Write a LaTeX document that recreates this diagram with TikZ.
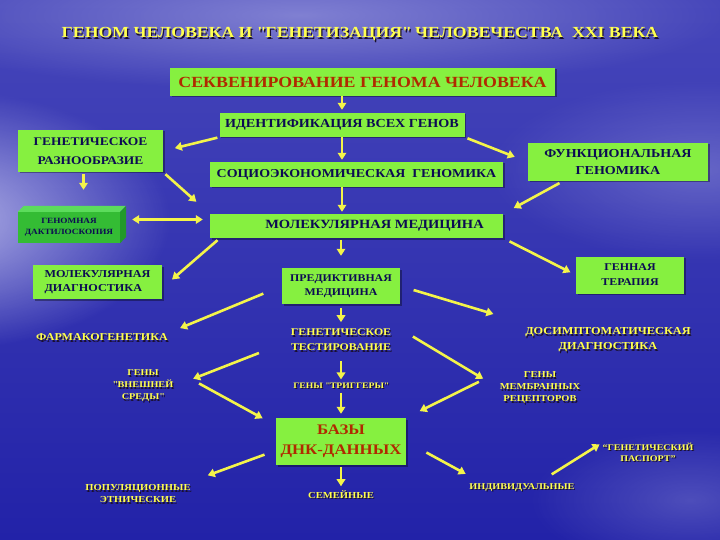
\documentclass[tikz,border=0pt]{standalone}
\usepackage{fontspec}
\setmainfont{Liberation Serif}[FakeStretch=1.15]
\usetikzlibrary{arrows.meta,fadings,shadows}
\tikzfading[name=softglow, inner color=transparent!0, outer color=transparent!100]
\definecolor{boxg}{HTML}{86F040}
\definecolor{navyt}{HTML}{0C0C52}
\definecolor{redt}{HTML}{B02A00}
\definecolor{yel}{HTML}{FFFF50}
\definecolor{arrc}{HTML}{F4F44A}
\definecolor{shadc}{HTML}{1A1030}
\definecolor{bgtop}{HTML}{4646BA}
\definecolor{bgbot}{HTML}{2222A8}
\definecolor{cloud}{HTML}{C8C8F0}
\definecolor{dkfront}{HTML}{34BC34}
\definecolor{dktop}{HTML}{5CDC5C}
\definecolor{dkside}{HTML}{229A2A}
\newcommand\fsz[2]{\fontsize{#1}{#2}\selectfont\bfseries}
\newcommand\shad[1]{\leavevmode\rlap{\kern1.2pt\raisebox{-1.2pt}{\color{shadc}#1}}#1}
\newcommand\ytab[1]{\shad{\begin{tabular}{@{}c@{}}#1\end{tabular}}}
\newcommand\qq{\textquotedbl}
\begin{document}
\begin{tikzpicture}[x=1pt,y=-1pt,
 gbox/.style={fill=boxg, text=navyt, inner sep=0pt, align=center,
   drop shadow={shadow xshift=1.5pt,shadow yshift=-1.5pt,opacity=.35,fill=black}},
 ytxt/.style={text=yel, inner sep=1pt},
 arr/.style={draw=arrc, line width=2.6pt, -{Triangle[length=7pt,width=8.5pt]}},
 dbl/.style={draw=arrc, line width=2.6pt, {Triangle[length=7pt,width=8.5pt]}-{Triangle[length=7pt,width=8.5pt]}}
]
\useasboundingbox (0,0) rectangle (720,540);
% background
\shade[top color=bgtop, bottom color=bgbot] (0,0) rectangle (720,540);
\begin{scope}
\clip (0,0) rectangle (720,540);
\fill[cloud, path fading=softglow, opacity=.85] (-60,220) ellipse (230 and 130);
\fill[cloud, path fading=softglow, opacity=.45] (300,15) ellipse (430 and 75);
\fill[cloud, path fading=softglow, opacity=.3] (700,170) ellipse (210 and 90);
\fill[cloud, path fading=softglow, opacity=.25] (690,500) ellipse (160 and 70);
\end{scope}

% title
\node[ytxt, font=\fsz{15.4}{18}] (title) at (360,35)
 {\shad{ГЕНОМ ЧЕЛОВЕКА И \qq ГЕНЕТИЗАЦИЯ\qq{} ЧЕЛОВЕЧЕСТВА\ \ XXI ВЕКА}};

% boxes
\node[gbox, text=redt, minimum width=385pt, minimum height=28pt, font=\fsz{15.5}{18}] (seq) at (362.5,82) {СЕКВЕНИРОВАНИЕ ГЕНОМА ЧЕЛОВЕКА};
\node[gbox, minimum width=245pt, minimum height=24pt, font=\fsz{12.3}{15}] (ident) at (342,125) {ИДЕНТИФИКАЦИЯ ВСЕХ ГЕНОВ};
\node[gbox, minimum width=145pt, minimum height=42pt, font=\fsz{11.7}{19}] (genraz) at (90.5,151) {ГЕНЕТИЧЕСКОЕ\\РАЗНООБРАЗИЕ};
\node[gbox, minimum width=180pt, minimum height=38pt, font=\fsz{12.2}{17}] (funkc) at (618,162) {ФУНКЦИОНАЛЬНАЯ\\ГЕНОМИКА};
\node[gbox, minimum width=293pt, minimum height=25pt, font=\fsz{12.1}{15}] (socio) at (356.5,174.5) {СОЦИОЭКОНОМИЧЕСКАЯ\ \ ГЕНОМИКА};
\node[gbox, minimum width=293pt, minimum height=24pt, font=\fsz{12.6}{15}] (molmed) at (356.5,226) {\hspace*{36pt}МОЛЕКУЛЯРНАЯ МЕДИЦИНА};
\node[fill=dkfront, text=navyt, inner sep=0pt, align=center, minimum width=102pt, minimum height=31pt, font=\fsz{8}{11}] (dakt) at (69,227.5) {ГЕНОМНАЯ\\ДАКТИЛОСКОПИЯ};
\fill[dktop] (dakt.north west) -- ++(6,-6) -- ++(102,0) -- (dakt.north east) -- cycle;
\fill[dkside] (dakt.north east) -- ++(6,-6) -- ++(0,31) -- (dakt.south east) -- cycle;
\node[gbox, align=left, minimum width=129pt, minimum height=34pt, font=\fsz{10.6}{14}] (moldiag) at (97.5,282) {МОЛЕКУЛЯРНАЯ\\ДИАГНОСТИКА};
\node[gbox, minimum width=118pt, minimum height=36pt, font=\fsz{10.3}{14}] (predikt) at (341,286) {ПРЕДИКТИВНАЯ\\МЕДИЦИНА};
\node[gbox, minimum width=108pt, minimum height=37pt, font=\fsz{10.4}{15}] (genter) at (630,275) {ГЕННАЯ\\ТЕРАПИЯ};
\node[gbox, text=redt, minimum width=130pt, minimum height=47pt, font=\fsz{14.6}{20}] (bazy) at (341,441.5) {БАЗЫ\\ДНК-ДАННЫХ};

% yellow texts
\node[ytxt, font=\fsz{10.5}{14}] (farmako) at (102,338) {\shad{ФАРМАКОГЕНЕТИКА}};
\node[ytxt, font=\fsz{10.7}{15}] (dosimpt) at (608,340) {\ytab{ДОСИМПТОМАТИЧЕСКАЯ\\ДИАГНОСТИКА}};
\node[ytxt, font=\fsz{10.3}{15}] (gentest) at (341,341) {\ytab{ГЕНЕТИЧЕСКОЕ\\ТЕСТИРОВАНИЕ}};
\node[ytxt, font=\fsz{8.9}{12}] (genyvnesh) at (143,386) {\ytab{ГЕНЫ\\\qq ВНЕШНЕЙ\\СРЕДЫ\qq}};
\node[ytxt, font=\fsz{8.4}{12}] (trigg) at (341,386) {\shad{ГЕНЫ \qq ТРИГГЕРЫ\qq}};
\node[ytxt, font=\fsz{9.1}{12}] (genymembr) at (540,388) {\ytab{ГЕНЫ\\МЕМБРАННЫХ\\РЕЦЕПТОРОВ}};
\node[ytxt, font=\fsz{9.2}{12}] (popul) at (138,495) {\ytab{ПОПУЛЯЦИОННЫЕ\\ЭТНИЧЕСКИЕ}};
\node[ytxt, font=\fsz{9.2}{12}] (semein) at (341,495) {\shad{СЕМЕЙНЫЕ}};
\node[ytxt, font=\fsz{8.9}{12}] (indiv) at (522,488) {\shad{ИНДИВИДУАЛЬНЫЕ}};
\node[ytxt, font=\fsz{8.7}{11}] (genpasp) at (648,454) {\ytab{“ГЕНЕТИЧЕСКИЙ\\ПАСПОРТ”}};

% arrows
\draw[arr, shorten >=3pt] (seq.south -| ident.north) -- (ident.north);
\draw[arr, shorten <=2pt, shorten >=12pt] (ident.south west) -- (genraz.east);
\draw[arr, shorten <=3pt, shorten >=14pt] (ident.south east) -- (funkc.west);
\draw[arr, shorten >=2pt] (ident.south) -- (ident.south |- socio.north);
\draw[arr, shorten >=2pt] (socio.south -| ident.south) -- (ident.south |- molmed.north);
\draw[arr, shorten <=3pt, shorten >=18pt] (genraz.south east) -- (molmed.north west);
\draw[arr, shorten <=2pt, shorten >=22pt] ([xshift=-7pt]genraz.south) -- ([xshift=-7pt]genraz.south |- dakt.north);
\draw[dbl, shorten <=12pt, shorten >=7pt] ([yshift=8pt]dakt.east) -- ([yshift=8pt]dakt.east -| molmed.west);
\draw[arr, shorten <=4pt, shorten >=12pt] ([xshift=-55pt]funkc.south) -- (molmed.north east);
\draw[arr, shorten <=3pt, shorten >=13pt] ([xshift=10pt]molmed.south west) -- ([yshift=-6pt]moldiag.east);
\draw[arr, shorten <=2pt, shorten >=12pt] (molmed.south -| predikt.north) -- (predikt.north);
\draw[arr, shorten <=7pt, shorten >=6pt] (molmed.south east) -- (genter.west);
\draw[arr, shorten <=20pt, shorten >=12pt] (predikt.west) -- (farmako.north east);
\draw[arr, shorten <=14pt, shorten >=32pt] (predikt.east) -- (dosimpt.north west);
\draw[arr, shorten <=4pt, shorten >=2pt] (predikt.south) -- (predikt.south |- gentest.north);
\draw[arr, shorten <=33pt, shorten >=20pt] (gentest.west) -- (genyvnesh.east);
\draw[arr, shorten <=24pt, shorten >=18pt] (gentest.north east) -- (genymembr.west);
\draw[arr, shorten <=3pt, shorten >=2pt] (gentest.south) -- (gentest.south |- trigg.north);
\draw[arr, shorten <=28pt, shorten >=15pt] ([yshift=16pt]genyvnesh.east) -- ([yshift=16pt]bazy.west);
\draw[arr, shorten <=2pt, shorten >=4pt] (trigg.south) -- (trigg.south |- bazy.north);
\draw[arr, shorten <=22pt, shorten >=15pt] ([yshift=16pt]genymembr.west) -- (bazy.north east);
\draw[arr, shorten <=12pt, shorten >=17pt] ([yshift=-9pt]bazy.west) -- (popul.north east);
\draw[arr, shorten <=2pt, shorten >=3pt] (bazy.south) -- (bazy.south |- semein.north);
\draw[arr, shorten <=23pt, shorten >=3pt] (bazy.east) -- ([yshift=7pt]indiv.north west);
\draw[arr, shorten <=15pt, shorten >=2pt] ([xshift=17pt]indiv.north) -- ([yshift=-2pt]genpasp.north west);
\end{tikzpicture}
\end{document}
